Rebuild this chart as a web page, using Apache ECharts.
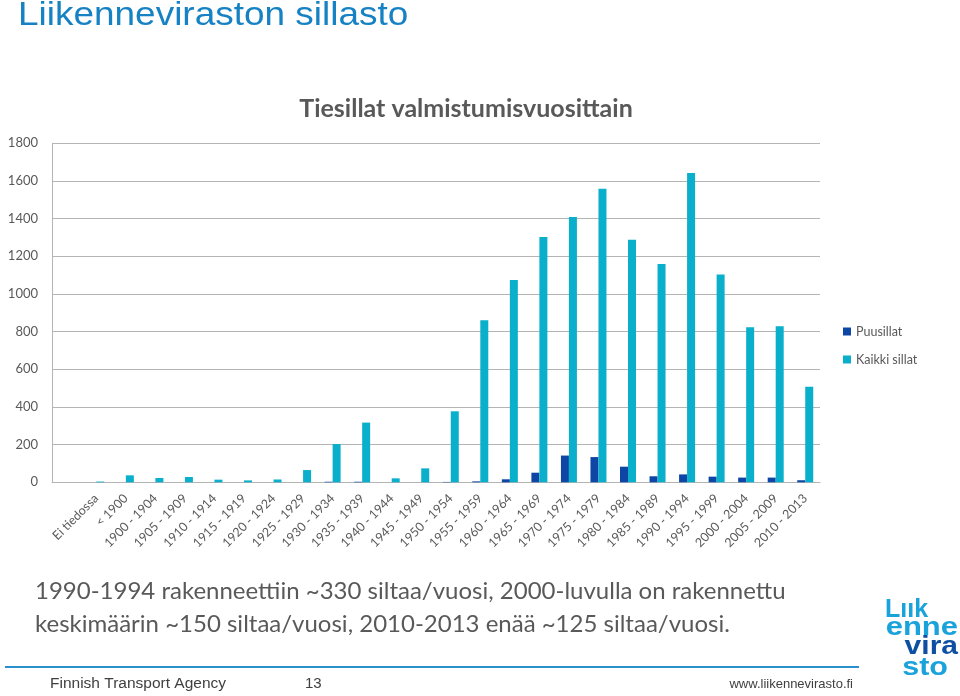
<!DOCTYPE html>
<html>
<head>
<meta charset="utf-8">
<script src="https://cdn.jsdelivr.net/npm/echarts@6/dist/echarts.min.js"></script>
<style>
html,body{margin:0;padding:0;background:#fff;}
#chart{width:960px;height:696px;}
</style>
</head>
<body>
<div id="chart"></div>
<script>
// ---- data ----
var pageTitle = 'Liikenneviraston sillasto';
var chartTitle = 'Tiesillat valmistumisvuosittain';
var categories = ['', 'Ei tiedossa', '< 1900', '1900 - 1904', '1905 - 1909', '1910 - 1914', '1915 - 1919',
  '1920 - 1924', '1925 - 1929', '1930 - 1934', '1935 - 1939', '1940 - 1944', '1945 - 1949',
  '1950 - 1954', '1955 - 1959', '1960 - 1964', '1965 - 1969', '1970 - 1974', '1975 - 1979',
  '1980 - 1984', '1985 - 1989', '1990 - 1994', '1995 - 1999', '2000 - 2004', '2005 - 2009', '2010 - 2013'];
var seriesNames = ['Puusillat', 'Kaikki sillat'];
var puusillat = [null, 0, 0, 0, 0, 0, 0, 0, 0, 3, 3, 0, 0, 2, 5, 16, 51, 142, 134, 83, 32, 42, 30, 25, 25, 11];
var kaikkiSillat = [null, 4, 37, 23, 28, 14, 10, 15, 65, 203, 317, 21, 74, 377, 860, 1074, 1302, 1409, 1559, 1288, 1159, 1642, 1104, 823, 828, 508];
var yTicks = [0, 200, 400, 600, 800, 1000, 1200, 1400, 1600, 1800];
var noteLines = ['1990-1994 rakenneettiin ~330 siltaa/vuosi, 2000-luvulla on rakennettu',
  'keskimäärin ~150 siltaa/vuosi, 2010-2013 enää ~125 siltaa/vuosi.'];
var footerLeft = 'Finnish Transport Agency';
var footerPage = '13';
var footerRight = 'www.liikennevirasto.fi';
var logoLines = ['Lıık', 'enne', 'vira', 'sto'];

// ---- chart ----
var chart = echarts.init(document.getElementById('chart'));
var gray = '#595959';
var font = 'Lato, Carlito, "Open Sans", sans-serif';
var arial = '"Liberation Sans", Arial, sans-serif';
var option = {
  backgroundColor: '#ffffff',
  animation: false,
  textStyle: { fontFamily: font },
  grid: { left: 52, right: 140, top: 143.3, bottom: 213.7, containLabel: false },
  legend: {
    orient: 'vertical', left: 838, top: 320,
    itemWidth: 8, itemHeight: 8, itemGap: 15, icon: 'rect',
    textStyle: { color: gray, fontSize: 12.5, fontFamily: font },
    data: seriesNames
  },
  xAxis: {
    type: 'category', data: categories,
    axisTick: { show: false },
    axisLine: { show: true, lineStyle: { color: '#b4b4b4', width: 1 } },
    axisLabel: { interval: 0, rotate: 45, color: gray, fontSize: 12.5, fontFamily: font, margin: 14 }
  },
  yAxis: {
    type: 'value', min: yTicks[0], max: yTicks[yTicks.length - 1], interval: yTicks[1] - yTicks[0],
    axisLine: { show: true, lineStyle: { color: '#b4b4b4', width: 1 } },
    axisTick: { show: false },
    splitLine: { show: true, lineStyle: { color: '#b4b4b4', width: 1 } },
    axisLabel: { color: gray, fontSize: 13, fontFamily: font, margin: 14,
      formatter: function (v) { return String(v); } }
  },
  series: [
    { name: seriesNames[0], type: 'bar', data: puusillat, barWidth: 8, barGap: '0%',
      itemStyle: { color: '#0E46A6' } },
    { name: seriesNames[1], type: 'bar', data: kaikkiSillat, barWidth: 8, barGap: '0%',
      itemStyle: { color: '#0AAFCB' } }
  ],
  graphic: [
    { type: 'text', x: 18, y: 16, scaleX: 1.12,
      style: { text: pageTitle, fill: '#1682C4', font: '33px ' + arial, textAlign: 'left', textVerticalAlign: 'middle' } },
    { type: 'text', x: 466, y: 109,
      style: { text: chartTitle, fill: gray, font: 'bold 25px ' + font, textAlign: 'center', textVerticalAlign: 'middle' } },
    { type: 'text', x: 35, y: 591,
      style: { text: noteLines[0], fill: gray, font: '24px ' + font, textAlign: 'left', textVerticalAlign: 'middle' } },
    { type: 'text', x: 35, y: 624,
      style: { text: noteLines[1], fill: gray, font: '24px ' + font, textAlign: 'left', textVerticalAlign: 'middle' } },
    { type: 'rect', shape: { x: 5, y: 666, width: 854, height: 2 }, style: { fill: '#2A8FCB' } },
    { type: 'text', x: 50, y: 684,
      style: { text: footerLeft, fill: '#404040', font: '15.5px ' + arial, textAlign: 'left', textVerticalAlign: 'middle' } },
    { type: 'text', x: 305, y: 684,
      style: { text: footerPage, fill: '#404040', font: '15px ' + arial, textAlign: 'left', textVerticalAlign: 'middle' } },
    { type: 'text', x: 853, y: 684,
      style: { text: footerRight, fill: '#404040', font: '13px ' + arial, textAlign: 'right', textVerticalAlign: 'middle' } },
    { type: 'text', x: 885, y: 610,
      style: { text: logoLines[0], fill: '#1AA3DB', font: 'bold 25px ' + arial, textAlign: 'left', textVerticalAlign: 'middle' } },
    { type: 'text', x: 958, y: 628, scaleX: 1.24,
      style: { text: logoLines[1], fill: '#1AA3DB', font: 'bold 25px ' + arial, textAlign: 'right', textVerticalAlign: 'middle' } },
    { type: 'text', x: 958, y: 647, scaleX: 1.2,
      style: { text: logoLines[2], fill: '#0D4FA3', font: 'bold 25px ' + arial, textAlign: 'right', textVerticalAlign: 'middle' } },
    { type: 'text', x: 948, y: 668, scaleX: 1.22,
      style: { text: logoLines[3], fill: '#1AA3DB', font: 'bold 25px ' + arial, textAlign: 'right', textVerticalAlign: 'middle' } }
  ]
};
chart.setOption(option);
</script>
</body>
</html>
